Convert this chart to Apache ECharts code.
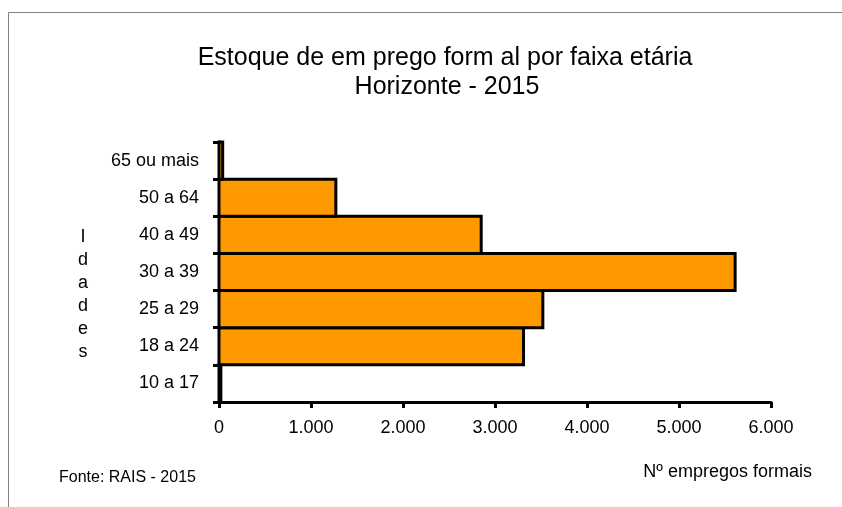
<!DOCTYPE html>
<html>
<head>
<meta charset="utf-8">
<script src="https://cdn.jsdelivr.net/npm/echarts@6/dist/echarts.min.js"></script>
<style>
html,body{margin:0;padding:0;background:#fff;}
#chart{width:842px;height:507px;}
</style>
</head>
<body>
<div id="chart"></div>
<script>
var categories = ['10 a 17', '18 a 24', '25 a 29', '30 a 39', '40 a 49', '50 a 64', '65 ou mais'];
var values = [20, 3310, 3520, 5610, 2850, 1270, 40];
var xTicks = [0, 1000, 2000, 3000, 4000, 5000, 6000];
var titleLines = ['Estoque de em prego form al por faixa etária', 'Horizonte - 2015'];
var yAxisName = 'Idades';
var xAxisName = 'Nº empregos formais';
var sourceText = 'Fonte: RAIS - 2015';

function fmt(v) { return String(v).replace(/\B(?=(\d{3})+(?!\d))/g, '.'); }

var barData = values.map(function (v, i) { return [v, i]; });

var FONT = '"Liberation Sans", Arial, sans-serif';
var chart = echarts.init(document.getElementById('chart'), null, {renderer: 'canvas'});
chart.setOption({
  animation: false,
  backgroundColor: '#fff',
  grid: {left: 219, right: 71, top: 142, bottom: 105, containLabel: false},
  xAxis: {
    type: 'value', min: xTicks[0], max: xTicks[xTicks.length - 1], interval: 1000,
    axisLine: {show: true, lineStyle: {color: '#000', width: 3}},
    axisTick: {show: true, length: 6, lineStyle: {color: '#000', width: 3}},
    splitLine: {show: false},
    axisLabel: {color: '#000', fontSize: 18, fontFamily: FONT, margin: 17, formatter: fmt}
  },
  yAxis: {
    type: 'category', data: categories,
    axisLine: {show: true, lineStyle: {color: '#000', width: 3}},
    axisTick: {show: true, length: 6, lineStyle: {color: '#000', width: 3}},
    axisLabel: {color: '#000', fontSize: 18, fontFamily: FONT, margin: 20}
  },
  series: [{
    type: 'custom',
    data: barData,
    encode: {x: 0, y: 1},
    z: 1,
    renderItem: function (params, api) {
      var idx = api.value(1);
      var start = api.coord([0, idx]);
      var end = api.coord([api.value(0), idx]);
      var h = api.size([0, 1])[1];
      return {
        type: 'rect',
        shape: {x: start[0], y: start[1] - h / 2, width: end[0] - start[0], height: h},
        style: {fill: '#FF9900', stroke: '#000', lineWidth: 3}
      };
    }
  }],
  graphic: [
    {type: 'rect', shape: {x: 8.5, y: 12.5, width: 900, height: 600}, style: {fill: 'none', stroke: '#808080', lineWidth: 1}, z: -1},
    {type: 'text', x: 445, y: 58, style: {text: titleLines[0], fontSize: 25, fontFamily: FONT, fill: '#000', textAlign: 'center', textVerticalAlign: 'middle'}},
    {type: 'text', x: 447, y: 87, style: {text: titleLines[1], fontSize: 25, fontFamily: FONT, fill: '#000', textAlign: 'center', textVerticalAlign: 'middle'}},
    {type: 'text', x: 83, y: 226, style: {text: yAxisName.split('').join('\n'), fontSize: 18, lineHeight: 23, fontFamily: FONT, fill: '#000', textAlign: 'center', textVerticalAlign: 'top'}},
    {type: 'text', x: 812, y: 472, style: {text: xAxisName, fontSize: 18, fontFamily: FONT, fill: '#000', textAlign: 'right', textVerticalAlign: 'middle'}},
    {type: 'text', x: 59, y: 478, style: {text: sourceText, fontSize: 16, fontFamily: FONT, fill: '#000', textAlign: 'left', textVerticalAlign: 'middle'}}
  ]
});
</script>
</body>
</html>
